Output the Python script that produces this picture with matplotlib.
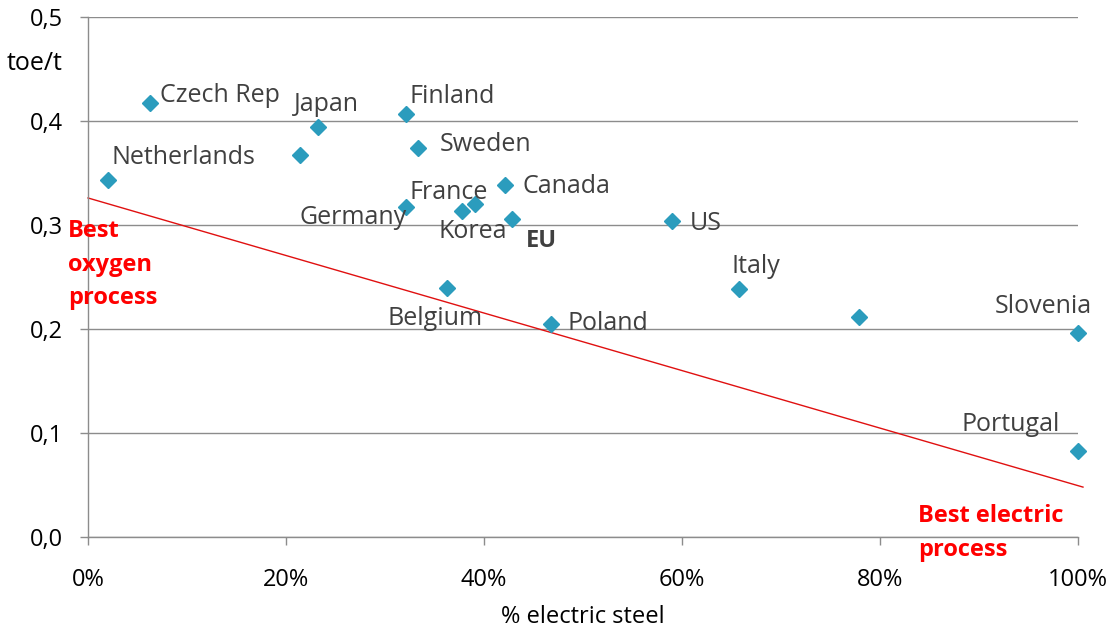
import matplotlib
matplotlib.use("Agg")
import matplotlib.pyplot as plt
from matplotlib.ticker import FuncFormatter, MultipleLocator

# ---- data ---------------------------------------------------------------------
countries = ["Netherlands", "Czech Rep", "", "Japan", "Finland", "Sweden", "Germany",
             "Korea", "France", "Canada", "EU", "Belgium", "Poland", "US", "Italy", "",
             "Slovenia", "Portugal"]
electric_share = [0.020, 0.063, 0.214, 0.232, 0.321, 0.333, 0.321, 0.378, 0.391,
                  0.421, 0.428, 0.363, 0.468, 0.590, 0.658, 0.779, 1.000, 1.000]
toe_per_t = [0.343, 0.417, 0.367, 0.394, 0.407, 0.374, 0.317, 0.313, 0.320,
             0.338, 0.306, 0.239, 0.205, 0.304, 0.238, 0.212, 0.196, 0.083]

best_line_x = [0.0, 1.005]
best_line_y = [0.326, 0.048]

# label anchor (left edge, vertical centre) in data units
label_pos = {
    "Czech Rep": (0.073, 0.425),
    "Japan": (0.208, 0.416),
    "Finland": (0.325, 0.424),
    "Netherlands": (0.024, 0.365),
    "Sweden": (0.355, 0.377),
    "France": (0.325, 0.331),
    "Canada": (0.439, 0.337),
    "Germany": (0.214, 0.307),
    "Korea": (0.354, 0.294),
    "US": (0.608, 0.301),
    "Italy": (0.650, 0.260),
    "Belgium": (0.303, 0.210),
    "Poland": (0.484, 0.205),
    "Slovenia": (0.916, 0.222),
    "Portugal": (0.882, 0.108),
}

TEAL = "#2b9cbd"
GREY_TXT = "#404040"
GRID = "#8c8c8c"
RED = "#ff0000"

plt.rcParams["font.family"] = ["Open Sans", "DejaVu Sans"]

fig = plt.figure(figsize=(11.1, 6.3), dpi=100)
ax = fig.add_axes([0.0793, 0.1476, 0.8919, 0.8254])

ax.plot(best_line_x, best_line_y, color="#e01010", lw=1.0, zorder=2, clip_on=False)
ax.plot(electric_share, toe_per_t, "D", color=TEAL, markersize=8, ls="none",
        zorder=3, clip_on=False)

for name, (lx, ly) in label_pos.items():
    ax.text(lx, ly, name, fontsize=18, color=GREY_TXT, ha="left", va="center")
ax.text(0.442, 0.285, "EU", fontsize=17, color=GREY_TXT, ha="left", va="center",
        fontweight="bold")

ax.text(-0.020, 0.262, "Best\noxygen\nprocess", fontsize=17, color=RED,
        fontweight="bold", ha="left", va="center", linespacing=1.55)
ax.text(0.838, 0.004, "Best electric\nprocess", fontsize=17, color=RED,
        fontweight="bold", ha="left", va="center", linespacing=1.55)

ax.set_xlim(0, 1.0)
ax.set_ylim(0, 0.5)
ax.xaxis.set_major_locator(MultipleLocator(0.2))
ax.yaxis.set_major_locator(MultipleLocator(0.1))
ax.xaxis.set_major_formatter(FuncFormatter(lambda v, p: f"{v * 100:.0f}%"))
ax.yaxis.set_major_formatter(FuncFormatter(lambda v, p: f"{v:.1f}".replace(".", ",")))

ax.grid(axis="y", color=GRID, lw=1.0)
ax.set_axisbelow(True)
for s in ["top", "right"]:
    ax.spines[s].set_visible(False)
for s in ["left", "bottom"]:
    ax.spines[s].set_color(GRID)
    ax.spines[s].set_linewidth(1.0)
ax.tick_params(axis="both", colors=GRID, labelcolor="black", labelsize=17, length=6, width=1)
ax.tick_params(axis="x", pad=16)
ax.tick_params(axis="y", pad=12)

ax.set_xlabel("% electric steel", fontsize=17, color="black", labelpad=10)
fig.text(0.006, 0.90, "toe/t", fontsize=18, color="black", ha="left", va="center")

fig.savefig("out.png", dpi=100)
